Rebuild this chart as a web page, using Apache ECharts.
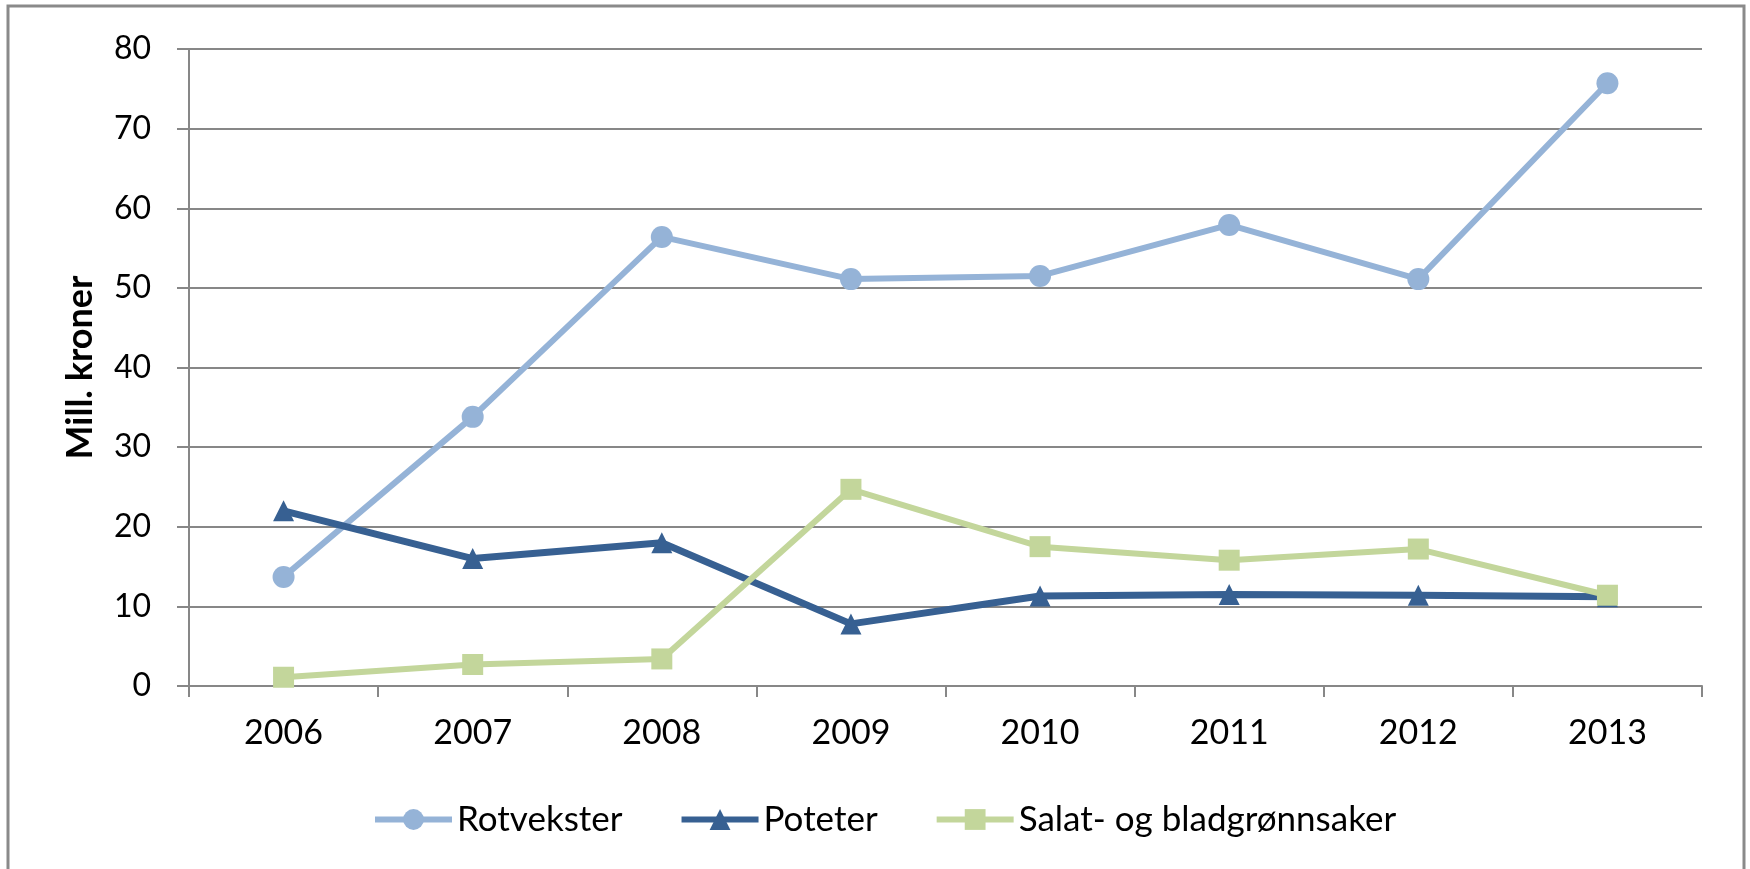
<!DOCTYPE html>
<html>
<head>
<meta charset="utf-8">
<script src="https://cdn.jsdelivr.net/npm/echarts@6/dist/echarts.min.js"></script>
<style>
html, body { margin: 0; padding: 0; background: #fff; }
#chart { width: 1750px; height: 869px; }
</style>
</head>
<body>
<div id="chart"></div>
<script>
// years on the x axis
var years = ['2006', '2007', '2008', '2009', '2010', '2011', '2012', '2013']
// Mill. kroner
var rotvekster = [13.7, 33.8, 56.4, 51.1, 51.5, 57.9, 51.1, 75.7]
var poteter = [22.0, 16.0, 18.0, 7.8, 11.3, 11.5, 11.4, 11.2]
var salat = [1.1, 2.7, 3.4, 24.7, 17.5, 15.8, 17.2, 11.4]
var yTicks = { min: 0, max: 80, step: 10 }

var font = 'Lato'
var grey = '#878787'

var chart = echarts.init(document.getElementById('chart'))
chart.setOption({
  animation: false,
  backgroundColor: '#ffffff',
  textStyle: { fontFamily: font, color: '#000' },
  graphic: [{
    type: 'polyline',
    shape: { points: [[8, 869], [8, 6], [1744, 6], [1744, 869]] },
    style: { stroke: '#8a8a8a', lineWidth: 3, fill: null },
    silent: true
  }],
  grid: {
    left: 189,
    right: 48,
    top: 49,
    bottom: 183
  },
  legend: {
    left: 367,
    top: 797,
    itemWidth: 77,
    itemHeight: 26,
    itemGap: 56,
    lineStyle: { width: 6 },
    textStyle: { fontFamily: font, fontSize: 35, color: '#000' },
    data: ['Rotvekster', 'Poteter', 'Salat- og bladgrønnsaker']
  },
  xAxis: {
    type: 'category',
    data: years,
    boundaryGap: true,
    axisLine: { lineStyle: { color: grey, width: 2 } },
    axisTick: { show: true, length: 11, interval: 0, lineStyle: { color: grey, width: 2 } },
    axisLabel: { fontFamily: font, fontSize: 34, color: '#000', margin: 30 }
  },
  yAxis: {
    type: 'value',
    min: yTicks.min,
    max: yTicks.max,
    interval: yTicks.step,
    name: 'Mill. kroner',
    nameLocation: 'middle',
    nameGap: 91,
    nameTextStyle: { fontFamily: font, fontSize: 36, fontWeight: 'bold', color: '#000' },
    axisLine: { show: true, lineStyle: { color: grey, width: 2 } },
    axisTick: { show: true, length: 12, lineStyle: { color: grey, width: 2 } },
    axisLabel: { fontFamily: font, fontSize: 32, color: '#000', margin: 38 },
    splitLine: { lineStyle: { color: grey, width: 2 } }
  },
  series: [{
    name: 'Rotvekster',
    type: 'line',
    data: rotvekster,
    symbol: 'circle',
    symbolSize: 22,
    lineStyle: { color: '#95b3d7', width: 6 },
    itemStyle: { color: '#95b3d7' }
  }, {
    name: 'Poteter',
    type: 'line',
    data: poteter,
    symbol: 'triangle',
    symbolSize: 21,
    lineStyle: { color: '#376092', width: 7 },
    itemStyle: { color: '#376092' }
  }, {
    name: 'Salat- og bladgrønnsaker',
    type: 'line',
    data: salat,
    symbol: 'rect',
    symbolSize: 21,
    lineStyle: { color: '#c3d69b', width: 6 },
    itemStyle: { color: '#c3d69b' }
  }]
})
</script>
</body>
</html>
